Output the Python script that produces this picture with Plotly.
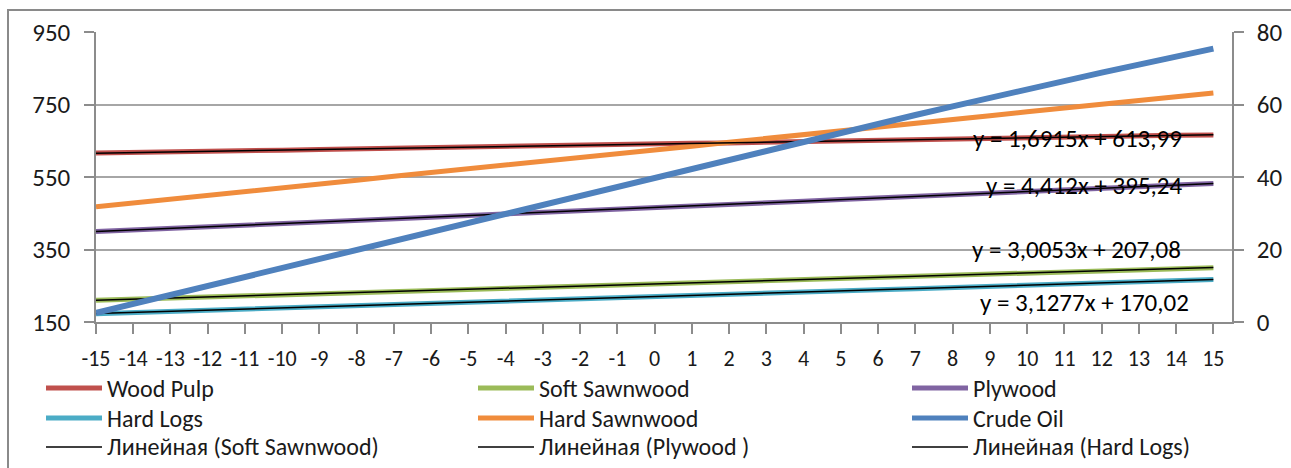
import plotly.graph_objects as go

# ---------------- data ----------------
x_vals = list(range(-15, 16))
x_labels = [str(v) for v in x_vals]

wood_pulp = [616, 617, 619, 621, 622, 624, 626, 628, 629, 631, 633, 634, 636, 638, 639, 641,
             643, 644, 646, 648, 650, 651, 653, 655, 656, 658, 660, 661, 663, 665, 666]
soft_sawnwood = [210, 213, 216, 219, 222, 225, 228, 231, 234, 237, 240, 243, 246, 249, 252, 255,
                 258, 261, 264, 267, 270, 273, 276, 279, 282, 285, 288, 291, 294, 297, 300]
plywood = [400, 404, 409, 413, 417, 422, 426, 431, 435, 439, 444, 448, 453, 457, 461, 466,
           470, 475, 479, 483, 488, 492, 497, 501, 506, 510, 514, 519, 523, 528, 532]
hard_logs = [173, 176, 179, 183, 186, 189, 192, 195, 198, 201, 204, 208, 211, 214, 217, 220,
             223, 226, 229, 233, 236, 239, 242, 245, 248, 251, 254, 258, 261, 264, 267]
hard_sawnwood = [468, 478, 489, 499, 510, 520, 531, 541, 552, 562, 573, 583, 594, 604, 614, 625,
                 635, 646, 656, 667, 677, 688, 698, 709, 719, 730, 740, 750, 761, 771, 782]
crude_oil = [2.5, 5.0, 7.5, 10.0, 12.4, 15.0, 17.5, 20.0, 22.5, 25.0, 27.5, 30.0, 32.4, 34.9, 37.4,
             39.8, 42.3, 44.8, 47.3, 49.8, 52.2, 54.6, 57.1, 59.5, 61.9, 64.3, 66.6, 68.8, 71.0, 73.2, 75.4]

# Trendline equations as shown on the chart (x = point index 1..31)
trend_names = ["Wood Pulp", "Soft Sawnwood", "Plywood", "Hard Logs"]
trend_slope = [1.6915, 3.0053, 4.412, 3.1277]
trend_intercept = [613.99, 207.08, 395.24, 170.02]
trend_labels = ["y = 1,6915x + 613,99", "y = 3,0053x + 207,08",
                "y = 4,412x + 395,24", "y = 3,1277x + 170,02"]

legend_items = ["Wood Pulp", "Soft Sawnwood", "Plywood",
                "Hard Logs", "Hard Sawnwood", "Crude Oil",
                "Линейная (Soft Sawnwood)", "Линейная (Plywood )", "Линейная (Hard Logs)"]

# ---------------- styling ----------------
FONT = "Carlito, Lato, 'Open Sans', sans-serif"
FS = 25
LFS = 24
TXT = "#1a1a1a"
W, H = 1291, 468
PL, PR, PT, PB = 96, 1232, 32, 322  # plot area in pixels

colors = {
    "Wood Pulp": "#C0504D",
    "Soft Sawnwood": "#9BBB59",
    "Plywood": "#8064A2",
    "Hard Logs": "#4BACC6",
    "Hard Sawnwood": "#F08C3C",
    "Crude Oil": "#4F81BD",
}

fig = go.Figure()

series = [("Wood Pulp", wood_pulp), ("Soft Sawnwood", soft_sawnwood), ("Plywood", plywood),
          ("Hard Logs", hard_logs), ("Hard Sawnwood", hard_sawnwood)]
for name, vals in series:
    fig.add_trace(go.Scatter(x=x_vals, y=vals, mode="lines", name=name, showlegend=False,
                             line=dict(color=colors[name], width=5)))

idx = list(range(1, len(x_vals) + 1))
for name, a, b in zip(trend_names, trend_slope, trend_intercept):
    yv = [a * i + b for i in idx]
    fig.add_trace(go.Scatter(x=x_vals, y=yv, mode="lines", name="Линейная (" + name + ")",
                             showlegend=False, line=dict(color="black", width=1.5)))

fig.add_trace(go.Scatter(x=x_vals, y=crude_oil, mode="lines", name="Crude Oil", yaxis="y2",
                         showlegend=False, line=dict(color=colors["Crude Oil"], width=6)))


def px_to_x(px):
    return -15 + (px - PL) / (PR - PL) * 30.5


def py_to_y(py):
    return 150 + (PB - py) / (PB - PT) * 800


def ppx(px):
    return (px - PL) / (PR - PL)


def ppy(py):
    return (PB - py) / (PB - PT)


# Equation labels
eq_pos = [(1077, 138), (1076, 249), (1084, 185), (1084, 302)]
for txt, (px, py) in zip(trend_labels, eq_pos):
    fig.add_annotation(x=px_to_x(px), y=py_to_y(py), text=txt, showarrow=False,
                       xanchor="center", yanchor="middle",
                       font=dict(family=FONT, size=FS, color="#000000"))

# Legend (3 columns x 3 rows)
col_x = [46, 478, 912]
row_y = [388, 418, 447]
for k, label in enumerate(legend_items):
    r, c = divmod(k, 3)
    x0 = col_x[c]
    y0 = row_y[r]
    if label in colors:
        lc, lw = colors[label], 5
    else:
        lc, lw = "black", 1.5
    fig.add_shape(type="line", xref="paper", yref="paper",
                  x0=ppx(x0), x1=ppx(x0 + 56), y0=ppy(y0), y1=ppy(y0),
                  line=dict(color=lc, width=lw))
    fig.add_annotation(xref="paper", yref="paper", x=ppx(x0 + 60), y=ppy(y0),
                       text=label, showarrow=False, xanchor="left", yanchor="middle",
                       borderpad=0,
                       font=dict(family=FONT, size=LFS, color=TXT))

# Outer chart frame
fig.add_shape(type="rect", xref="paper", yref="paper",
              x0=ppx(8), x1=ppx(1320), y0=ppy(500), y1=ppy(10),
              line=dict(color="#8a8a8a", width=2), fillcolor="rgba(0,0,0,0)", layer="below")

axis_color = "#8c8c8c"
grid_color = "#a6a6a6"
tickfont = dict(family=FONT, size=FS, color=TXT)

fig.update_layout(
    width=W, height=H,
    margin=dict(l=PL, r=W - PR, t=PT, b=H - PB, pad=0, autoexpand=False),
    paper_bgcolor="white", plot_bgcolor="white",
    font=dict(family=FONT, size=FS, color=TXT),
    showlegend=False,
    xaxis=dict(range=[-15, 15.5], tickmode="array", tickvals=x_vals, ticktext=x_labels,
               showgrid=False, showline=True, linecolor=axis_color, linewidth=1.5,
               ticks="outside", ticklen=10, tickcolor=axis_color, tickwidth=1.5,
               ticklabelstandoff=6,
               zeroline=False, tickfont=dict(family=FONT, size=22, color=TXT), automargin=False),
    yaxis=dict(range=[150, 950], tickmode="array", tickvals=[150, 350, 550, 750, 950],
               showgrid=True, gridcolor=grid_color, gridwidth=1.5,
               showline=True, linecolor=axis_color, linewidth=1.5,
               ticks="outside", ticklen=10, tickcolor=axis_color, tickwidth=1.5,
               ticklabelstandoff=9,
               zeroline=False, tickfont=tickfont, automargin=False),
    yaxis2=dict(range=[0, 80], tickmode="array", tickvals=[0, 20, 40, 60, 80],
                overlaying="y", side="right", showgrid=False,
                showline=True, linecolor=axis_color, linewidth=1.5,
                ticks="outside", ticklen=10, tickcolor=axis_color, tickwidth=1.5,
                ticklabelstandoff=8,
                zeroline=False, tickfont=tickfont, automargin=False),
)

fig.write_html("out.html", config={"displayModeBar": False},
               post_script="document.body.style.margin='0';document.body.style.overflow='hidden';")
